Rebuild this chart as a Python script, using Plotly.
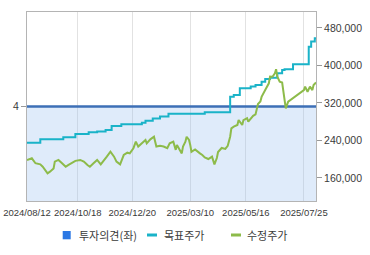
import pandas as pd
import plotly.graph_objects as go

# ---------------- data ----------------
start_date = "2024-08-12"
end_date = "2025-08-08"
krx_holidays = ["2024-08-15", "2024-09-16", "2024-09-17", "2024-09-18", "2024-10-01",
                "2024-10-03", "2024-10-09", "2024-12-25", "2024-12-31", "2025-01-01",
                "2025-01-27", "2025-01-28", "2025-01-29", "2025-01-30", "2025-03-03",
                "2025-05-01", "2025-05-05", "2025-05-06", "2025-06-03", "2025-06-06"]
trading_days = [d.strftime("%Y/%m/%d") for d in pd.bdate_range(start_date, end_date)
                if d.strftime("%Y-%m-%d") not in krx_holidays]

tick_labels = ["2024/08/12", "2024/10/18", "2024/12/20", "2025/03/10", "2025/05/16", "2025/07/25"]
price_ticks = [160000, 240000, 320000, 400000, 480000]
opinion_ticks = [4]

# 투자의견 (trading-day number -> opinion)
opinion_day = [0, 239]
opinion_val = [4, 4]

# 목표주가 (changes, trading-day number)
target_day = [0, 11, 30, 40, 51, 58, 65, 70, 78, 95, 98, 104, 110, 117, 147, 168, 171,
              176, 185, 189, 194, 197, 201, 207, 211, 213, 220, 233, 235, 238, 239]
target_val = [235000, 242500, 247000, 254000, 257500, 259000, 262500, 271000, 274500,
              278000, 282000, 287000, 291000, 297000, 300500, 333500, 337000, 351500,
              355000, 358500, 365500, 371000, 374000, 383500, 390500, 392000, 402500,
              440000, 451000, 458000, 460000]

# 수정주가 (trading-day number, price)
price_day = [0, 4, 7, 11, 13, 17, 19, 22, 23, 26, 29, 32, 34, 37, 40, 44, 47, 50, 52, 55,
             58, 61, 63, 66, 69, 72, 74, 77, 80, 83, 85, 88, 90, 92, 95, 98, 99, 102, 105,
             106, 107, 110, 113, 116, 118, 121, 123, 124, 127, 128, 129, 131, 132, 134,
             135, 136, 139, 142, 143, 145, 147, 150, 153, 155, 157, 158, 160, 161, 164,
             166, 168, 169, 171, 174, 175, 176, 178, 179, 182, 183, 185, 187, 189, 190,
             191, 193, 194, 197, 200, 201, 203, 205, 206, 207, 209, 211, 212, 213, 214,
             216, 218, 220, 223, 226, 229, 230, 232, 234, 236, 237, 238, 239]
price_val = [198500, 202000, 191500, 189000, 184000, 170000, 173500, 180500, 195000, 198500,
             191500, 184000, 187500, 191500, 196500, 198500, 195000, 187500, 184000, 191500,
             198500, 189000, 195000, 205500, 216000, 205500, 195000, 189000, 209000, 214000,
             212500, 223500, 237500, 227000, 234000, 241000, 234000, 242500, 248000, 237500,
             227000, 228500, 227000, 223500, 234000, 237500, 220000, 230500, 216000, 212500,
             227000, 237500, 248000, 241000, 230500, 216000, 221000, 216000, 212500, 209000,
             204000, 200500, 205500, 189000, 202500, 215500, 222000, 224000, 222000, 228500,
             248000, 266000, 269500, 273000, 283500, 280000, 273000, 283500, 287500, 280000,
             287500, 292500, 295500, 305000, 318000, 323000, 333000, 347500, 362000, 376500,
             376000, 383500, 392000, 376000, 365500, 363500, 347500, 326500, 308500, 323000,
             326500, 330000, 337000, 340500, 347500, 355000, 344000, 355000, 347500, 358500,
             362000, 363500]

legend_names = ["투자의견(좌)", "목표주가", "수정주가"]

# ---------------- styling ----------------
W, H = 370, 255
ML, MR, MT, MB = 27, 54, 12, 54
PW, PH = W - ML - MR, H - MT - MB
FONT = "Liberation Sans, Noto Sans CJK KR, sans-serif"
C_OPINION = "#3d6fb6"
C_OPINION_LEG = "#2b78e4"
C_TARGET = "#1ab3c8"
C_PRICE = "#8dbb4a"
FRAME = "#b4b4b4"
TXT = "#3a3a3a"


def px_x(p):
    return (p - ML) / PW


def px_y(p):
    return (H - MB - p) / PH


fig = go.Figure()
fig.add_trace(go.Scatter(
    x=[trading_days[i] for i in opinion_day], y=opinion_val, mode="lines",
    line=dict(color=C_OPINION, width=2.5), fill="tozeroy",
    fillcolor="rgba(150,190,240,0.3)", yaxis="y", showlegend=False, name=legend_names[0]))
fig.add_trace(go.Scatter(
    x=[trading_days[i] for i in target_day], y=target_val, mode="lines",
    line=dict(color=C_TARGET, width=2, shape="hv"), yaxis="y2", showlegend=False,
    name=legend_names[1]))
fig.add_trace(go.Scatter(
    x=[trading_days[i] for i in price_day], y=price_val, mode="lines",
    line=dict(color=C_PRICE, width=2), yaxis="y2", showlegend=False,
    name=legend_names[2]))

fig.update_layout(
    width=W, height=H,
    margin=dict(l=ML, r=MR, t=MT, b=MB, autoexpand=False),
    paper_bgcolor="white", plot_bgcolor="white",
    font=dict(family=FONT, size=10, color=TXT),
    xaxis=dict(type="category", categoryorder="array", categoryarray=trading_days,
               range=[0, len(trading_days) - 1], tickmode="array",
               tickvals=tick_labels, ticktext=tick_labels, tickangle=0, showgrid=True,
               gridcolor="#e2e2e2", gridwidth=1, showline=True, mirror=True,
               linecolor=FRAME, linewidth=1, ticks="outside", ticklen=3,
               tickcolor="rgba(0,0,0,0)", automargin=False,
               tickfont=dict(size=9.5, color=TXT)),
    yaxis=dict(range=[0, 8], tickmode="array", tickvals=opinion_ticks, ticks="outside",
               ticklen=5, tickcolor="#999999", showgrid=False, zeroline=False,
               showline=True, linecolor=FRAME, linewidth=1, automargin=False,
               tickfont=dict(size=10.5, color=TXT)),
    yaxis2=dict(overlaying="y", side="right", range=[110900, 514100], tickmode="array",
                tickvals=price_ticks, tickformat=",", ticks="outside", ticklen=5,
                tickcolor="#999999", showgrid=False, zeroline=False, showline=True,
                linecolor=FRAME, linewidth=1, automargin=False,
                tickfont=dict(size=10.5, color=TXT)),
    showlegend=False,
)

# custom legend
shapes = [
    dict(type="rect", xref="paper", yref="paper", x0=px_x(62.7), x1=px_x(70.7),
         y0=px_y(239.3), y1=px_y(231), fillcolor=C_OPINION_LEG, line=dict(width=0)),
    dict(type="line", xref="paper", yref="paper", x0=px_x(147), x1=px_x(157),
         y0=px_y(235), y1=px_y(235), line=dict(color=C_TARGET, width=3)),
    dict(type="line", xref="paper", yref="paper", x0=px_x(231), x1=px_x(241),
         y0=px_y(235), y1=px_y(235), line=dict(color=C_PRICE, width=3)),
]
ann_x = [77, 162, 244.5]
annotations = [dict(text=t, xref="paper", yref="paper", x=px_x(xp), y=px_y(235),
                    xanchor="left", yanchor="middle", showarrow=False,
                    font=dict(family="Noto Sans CJK KR, sans-serif", size=11, color=TXT))
               for t, xp in zip(legend_names, ann_x)]
fig.update_layout(shapes=shapes, annotations=annotations)

fig.write_html("out.html")
